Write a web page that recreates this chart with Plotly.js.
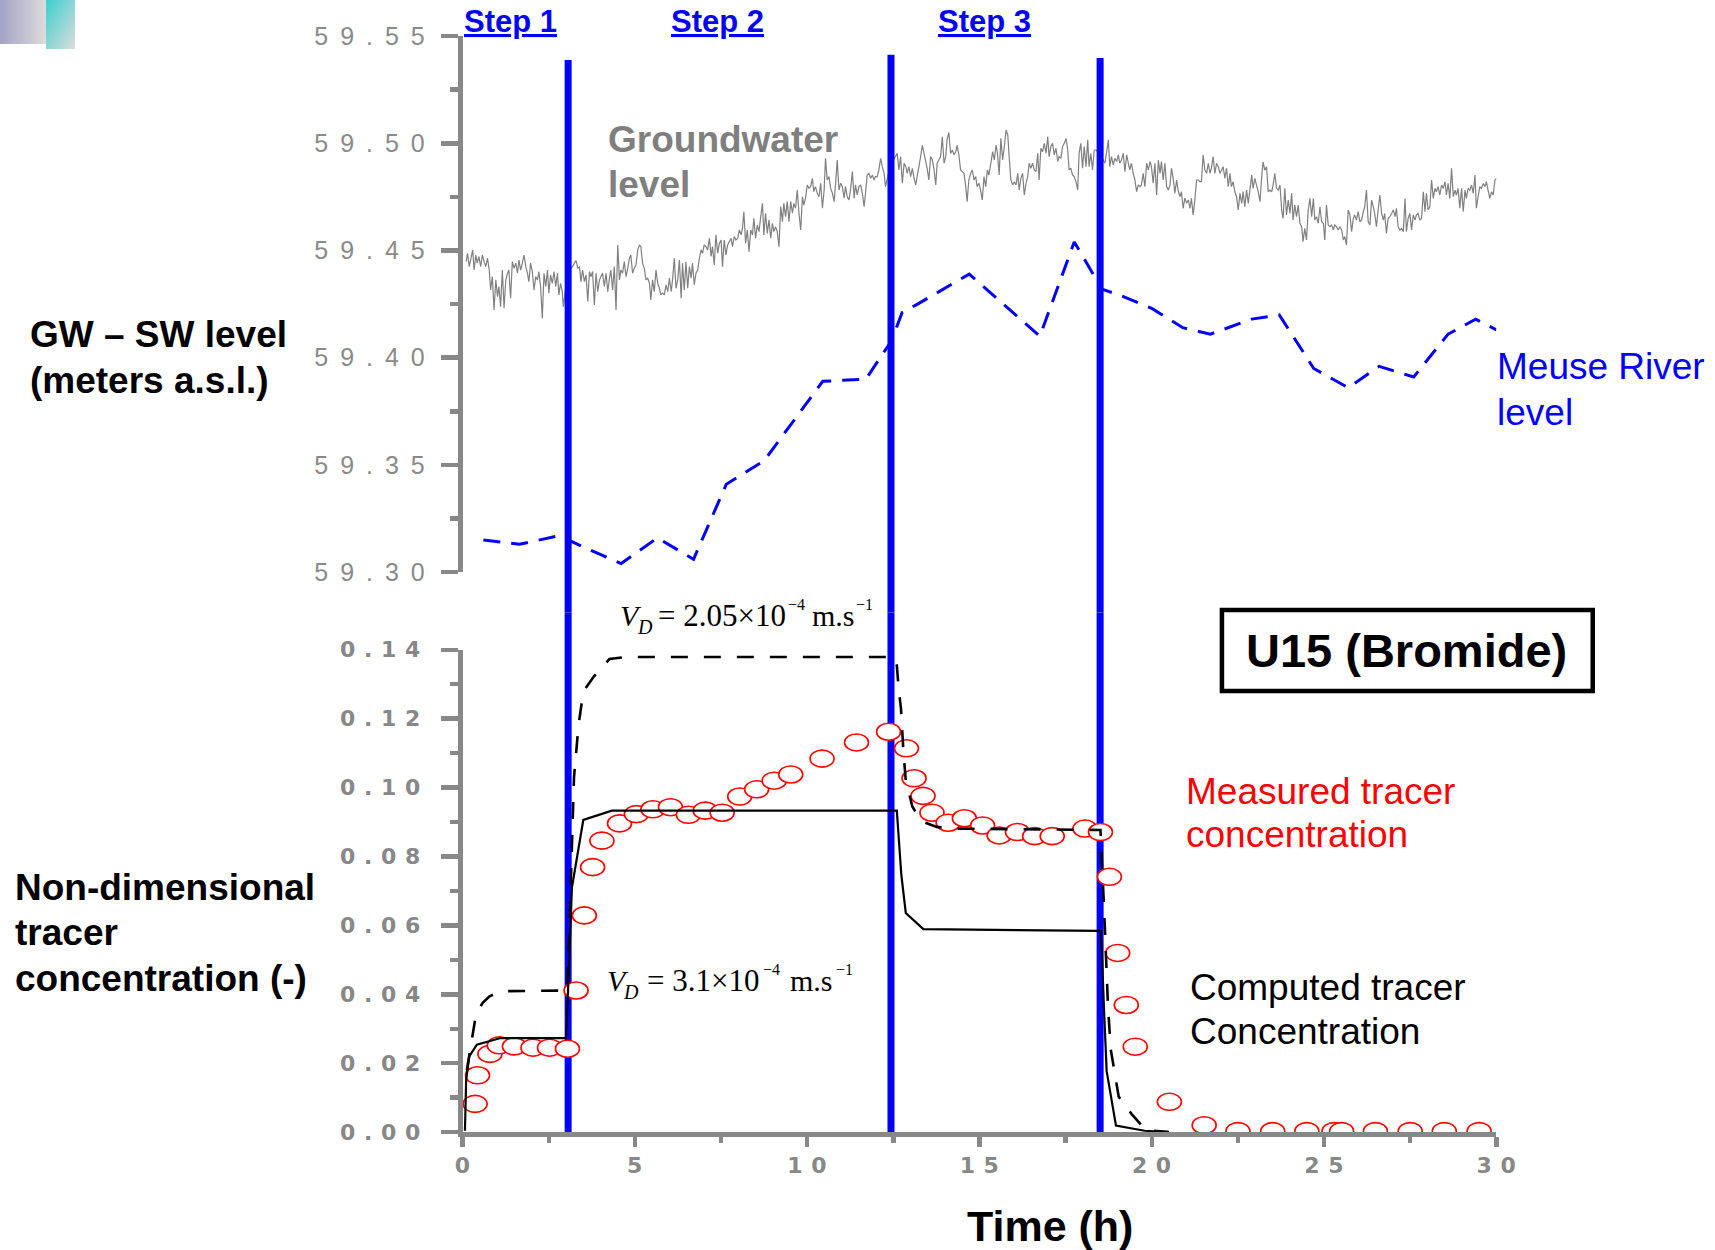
<!DOCTYPE html>
<html><head><meta charset="utf-8">
<script src="https://cdn.plot.ly/plotly-3.0.1.min.js"></script>
<style>
html,body{margin:0;padding:0;background:#fff}
#chart{width:1715px;height:1250px}
#chart .y2tick text{letter-spacing:2.5px}
#chart .ytick text{letter-spacing:0.5px}
#chart .xtick text{letter-spacing:0.5px}
</style>
</head><body><div id="chart"></div>
<script>
// ---------------- DATA ----------------
const stepTimes = [3.06, 12.43, 18.5];
const stepLabels = ["Step 1", "Step 2", "Step 3"];
const stepLabelTimes = [1.4, 7.4, 15.14];

// Groundwater level readings (two reading passes, merged and sorted by time below)
const gwTime = [0.10,0.19,0.29,0.38,0.47,0.57,0.67,0.77,0.86,0.91,1.01,1.10,1.15,1.20,1.30,1.39,1.44,1.54,1.63,1.73,1.78,1.88,1.97,2.07,2.17,2.26,2.31,2.36,2.46,2.50,2.60,2.70,2.79,2.89,2.92,3.05,
3.19,3.29,3.39,3.43,3.53,3.63,3.68,3.77,3.82,3.92,4.01,4.11,4.21,4.30,4.35,4.40,4.45,4.50,4.59,4.69,4.79,4.88,4.98,5.08,5.13,5.22,5.32,5.46,5.56,5.66,5.75,5.85,5.95,6.05,6.14,6.19,6.29,6.34,6.43,6.48,6.53,6.63,6.72,6.82,6.92,7.01,7.16,7.21,7.35,7.45,7.54,7.59,7.69,
7.79,7.88,7.98,8.08,8.16,8.21,8.31,8.36,8.45,8.50,8.60,8.70,8.74,8.84,8.94,9.03,9.13,9.18,9.23,9.32,9.42,9.47,9.52,9.61,9.71,9.81,9.86,9.95,10.00,10.10,10.19,10.29,10.39,10.44,10.53,10.63,10.73,10.78,10.87,10.97,11.07,11.16,11.26,11.31,11.36,11.45,11.55,11.65,11.74,11.84,11.94,12.03,12.13,12.23,12.27,12.42,
12.56,12.66,12.76,12.86,12.95,13.05,13.15,13.24,13.34,13.44,13.53,13.58,13.68,13.73,13.82,13.92,14.02,14.11,14.21,14.31,14.40,14.50,14.60,14.64,14.74,14.84,14.93,15.03,15.08,15.18,15.27,
15.33,15.43,15.48,15.57,15.62,15.72,15.77,15.86,15.91,16.01,16.11,16.15,16.25,16.30,16.40,16.44,16.54,16.64,16.69,16.73,16.78,16.88,16.98,17.02,17.12,17.17,17.27,17.36,17.46,17.51,17.56,17.60,17.70,17.80,17.85,17.89,17.94,17.99,18.04,18.09,18.14,18.23,18.28,18.33,18.38,18.50,
18.64,18.74,18.78,18.88,18.98,19.07,19.17,19.22,19.32,19.41,19.51,19.56,19.66,19.75,19.80,19.90,19.99,20.04,20.14,20.19,20.28,20.33,20.43,20.53,20.57,20.67,20.77,20.82,20.91,21.01,21.11,21.20,21.25,21.30,21.40,21.49,21.59,21.69,21.78,21.88,21.98,22.07,22.12,22.22,22.31,22.41,22.46,22.51,22.61,22.70,22.80,
22.90,22.99,23.09,23.19,23.23,23.33,23.43,23.52,23.57,23.67,23.77,23.86,23.91,24.01,24.06,24.10,24.20,24.30,24.39,24.49,24.54,24.59,24.69,24.73,24.83,24.88,24.98,25.02,25.07,25.17,25.27,25.36,25.46,25.56,25.65,25.70,25.80,25.89,25.99,26.09,26.18,26.23,26.33,26.38,26.47,26.52,26.62,26.72,26.81,26.91,27.01,27.10,27.20,27.30,27.35,27.39,27.49,27.59,27.68,27.78,27.88,27.97,28.07,28.12,28.22,28.31,28.41,28.51,28.60,28.65,28.70,28.80,28.89,28.94,29.04,29.13,29.23,29.33,29.38,29.42,29.52,29.62,29.71,29.81,29.91,30.01,
0.14,0.24,0.33,0.42,0.52,0.62,0.72,0.81,0.96,1.05,1.25,1.34,1.49,1.59,1.68,1.83,1.92,2.02,2.12,2.21,2.41,2.55,2.65,2.75,2.84,
3.24,3.34,3.48,3.58,3.72,3.87,3.97,4.06,4.16,4.26,4.55,4.64,4.74,4.84,4.93,5.03,5.17,5.27,5.37,5.42,5.51,5.61,5.71,5.80,5.90,6.00,6.09,6.24,6.38,6.58,6.67,6.77,6.87,6.96,7.06,7.11,7.25,7.30,7.40,7.50,7.64,7.74,
7.83,7.93,8.03,8.12,8.26,8.41,8.55,8.65,8.79,8.89,8.99,9.08,9.28,9.37,9.57,9.66,9.76,9.90,10.05,10.15,10.24,10.34,10.49,10.58,10.68,10.82,10.92,11.02,11.11,11.21,11.40,11.50,11.60,11.69,11.79,11.89,11.98,12.08,12.18,
12.61,12.71,12.81,12.90,13.00,13.10,13.19,13.29,13.39,13.48,13.63,13.77,13.87,13.97,14.06,14.16,14.26,14.35,14.45,14.55,14.69,14.79,14.89,14.98,15.13,15.23,
15.38,15.52,15.67,15.82,15.96,16.06,16.20,16.35,16.49,16.59,16.83,16.93,17.07,17.22,17.31,17.41,17.65,17.75,18.18,
18.69,18.83,18.93,19.03,19.12,19.27,19.36,19.46,19.61,19.70,19.85,19.95,20.09,20.24,20.38,20.48,20.62,20.72,20.86,20.96,21.06,21.15,21.35,21.44,21.54,21.64,21.73,21.83,21.93,22.03,22.17,22.27,22.36,22.56,22.65,22.75,
22.94,23.04,23.14,23.28,23.38,23.48,23.62,23.72,23.81,23.96,24.15,24.25,24.35,24.44,24.64,24.78,24.93,25.12,25.22,25.31,25.41,25.51,25.60,25.75,25.85,25.94,26.04,26.14,26.28,26.43,26.57,26.67,26.76,26.86,26.96,27.06,27.15,27.25,27.44,27.54,27.64,27.73,27.83,27.93,28.02,28.17,28.26,28.36,28.46,28.55,28.75,28.84,28.99,29.09,29.18,29.28,29.47,29.57,29.67,29.76,29.86,29.96];
const gwLevel = [59.4448,59.4425,59.4503,59.4479,59.4472,59.4479,59.4425,59.4409,59.4378,59.4223,59.4285,59.4238,59.4409,59.4231,59.4394,59.4277,59.4448,59.4441,59.4456,59.4441,59.4479,59.4394,59.4441,59.4316,59.4363,59.4332,59.4184,59.4394,59.4409,59.4301,59.4347,59.4332,59.4293,59.4308,59.4238,59.4400,
59.4425,59.4453,59.4425,59.4355,59.4355,59.4262,59.4402,59.4402,59.4246,59.4308,59.4378,59.4332,59.4308,59.4409,59.4316,59.4425,59.4223,59.4526,59.4409,59.4448,59.4417,59.4479,59.4417,59.4503,59.4526,59.4441,59.4363,59.4270,59.4308,59.4347,59.4293,59.4293,59.4308,59.4308,59.4464,59.4324,59.4456,59.4277,59.4316,59.4448,59.4324,59.4371,59.4340,59.4409,59.4503,59.4526,59.4557,59.4472,59.4573,59.4534,59.4425,59.4549,59.4526,
59.4557,59.4565,59.4557,59.4573,59.4681,59.4534,59.4495,59.4596,59.4650,59.4557,59.4588,59.4720,59.4573,59.4580,59.4557,59.4588,59.4588,59.4518,59.4705,59.4720,59.4728,59.4635,59.4728,59.4720,59.4782,59.4596,59.4751,59.4744,59.4806,59.4798,59.4775,59.4767,59.4814,59.4697,59.4930,59.4845,59.4767,59.4728,59.4922,59.4814,59.4744,59.4751,59.4790,59.4868,59.4744,59.4759,59.4806,59.4705,59.4852,59.4837,59.4829,59.4845,59.4930,59.4860,59.4798,59.4900,
59.4938,59.4876,59.4814,59.4891,59.4891,59.4883,59.4806,59.4891,59.4990,59.4915,59.4829,59.4938,59.4876,59.4806,59.4922,59.5030,59.4938,59.5050,59.4969,59.4961,59.4946,59.4868,59.4798,59.4728,59.4860,59.4829,59.4798,59.4782,59.4736,59.4798,59.4852,
59.4907,59.4922,59.4992,59.4852,59.5023,59.4985,59.5062,59.4938,59.4829,59.4821,59.4860,59.4782,59.4860,59.4759,59.4845,59.4907,59.4907,59.4868,59.4953,59.4829,59.4977,59.5000,59.5031,59.4938,59.5000,59.4946,59.4915,59.4930,59.5000,59.5023,59.4969,59.4876,59.4852,59.4821,59.4782,59.4953,59.5000,59.4884,59.4985,59.4891,59.5016,59.4953,59.4876,59.4969,59.4969,59.4950,
59.4907,59.5016,59.4891,59.4899,59.4915,59.4907,59.4953,59.4868,59.4907,59.4907,59.4829,59.4775,59.4798,59.4860,59.4798,59.4876,59.4891,59.4814,59.4759,59.4922,59.4915,59.4829,59.4798,59.4806,59.4884,59.4767,59.4775,59.4751,59.4697,59.4720,59.4697,59.4666,59.4736,59.4829,59.4821,59.4946,59.4860,59.4860,59.4938,59.4907,59.4860,59.4891,59.4837,59.4798,59.4798,59.4775,59.4751,59.4689,59.4720,59.4705,59.4720,
59.4852,59.4837,59.4774,59.4844,59.4914,59.4891,59.4782,59.4805,59.4860,59.4782,59.4689,59.4790,59.4666,59.4673,59.4767,59.4642,59.4658,59.4627,59.4541,59.4549,59.4689,59.4743,59.4743,59.4642,59.4627,59.4704,59.4627,59.4549,59.4712,59.4611,59.4596,59.4611,59.4611,59.4549,59.4526,59.4689,59.4588,59.4666,59.4681,59.4642,59.4704,59.4782,59.4619,59.4735,59.4673,59.4611,59.4759,59.4642,59.4580,59.4658,59.4689,59.4697,59.4596,59.4588,59.4743,59.4588,59.4673,59.4666,59.4666,59.4642,59.4774,59.4767,59.4704,59.4829,59.4790,59.4798,59.4805,59.4821,59.4813,59.4743,59.4883,59.4782,59.4790,59.4697,59.4681,59.4743,59.4782,59.4767,59.4852,59.4697,59.4798,59.4813,59.4821,59.4743,59.4759,59.4836,
59.4487,59.4464,59.4409,59.4441,59.4425,59.4448,59.4464,59.4316,59.4363,59.4332,59.4363,59.4409,59.4417,59.4394,59.4409,59.4425,59.4355,59.4402,59.4378,59.4402,59.4332,59.4386,59.4402,59.4394,59.4347,
59.4441,59.4417,59.4409,59.4386,59.4378,59.4394,59.4363,59.4394,59.4394,59.4371,59.4363,59.4394,59.4378,59.4464,59.4394,59.4433,59.4518,59.4417,59.4371,59.4347,59.4363,59.4409,59.4324,59.4301,59.4340,59.4371,59.4363,59.4363,59.4441,59.4425,59.4441,59.4394,59.4464,59.4487,59.4518,59.4503,59.4518,59.4433,59.4487,59.4549,59.4479,59.4542,
59.4518,59.4549,59.4596,59.4604,59.4596,59.4573,59.4619,59.4658,59.4674,59.4643,59.4627,59.4611,59.4635,59.4658,59.4674,59.4697,59.4674,59.4712,59.4790,59.4837,59.4798,59.4751,59.4782,59.4829,59.4790,59.4806,59.4782,59.4798,59.4798,59.4736,59.4806,59.4798,59.4767,59.4767,59.4860,59.4852,59.4845,59.4876,59.4891,
59.4953,59.4938,59.4907,59.4860,59.4845,59.4837,59.4845,59.4938,59.4953,59.4883,59.4922,59.4907,59.4938,59.4907,59.5020,59.4953,59.4946,59.4990,59.4876,59.4860,59.4829,59.4876,59.4845,59.4814,59.4845,59.4876,
59.4961,59.4954,59.4922,59.5039,59.4806,59.4806,59.4837,59.4814,59.4884,59.4876,59.4961,59.4954,59.4985,59.4977,59.4938,59.4985,59.4884,59.4845,59.4891,
59.4961,59.4938,59.4930,59.4946,59.4922,59.4946,59.4876,59.4860,59.4806,59.4806,59.4907,59.4915,59.4907,59.4860,59.4907,59.4782,59.4837,59.4829,59.4775,59.4744,59.4736,59.4744,59.4829,59.4821,59.4876,59.4907,59.4884,59.4860,59.4891,59.4876,59.4884,59.4860,59.4821,59.4767,59.4775,59.4782,
59.4790,59.4805,59.4728,59.4875,59.4774,59.4774,59.4790,59.4805,59.4650,59.4735,59.4712,59.4712,59.4611,59.4603,59.4658,59.4658,59.4634,59.4619,59.4619,59.4619,59.4596,59.4596,59.4565,59.4666,59.4650,59.4642,59.4634,59.4681,59.4634,59.4704,59.4689,59.4673,59.4673,59.4650,59.4673,59.4658,59.4611,59.4603,59.4650,59.4596,59.4642,59.4673,59.4650,59.4681,59.4689,59.4743,59.4774,59.4759,59.4790,59.4759,59.4751,59.4759,59.4790,59.4782,59.4790,59.4805,59.4751,59.4790,59.4798,59.4782,59.4774,59.4829];

const riverTime  = [0.6, 1.65, 2.8, 3.6, 4.6, 5.65, 6.7, 7.65, 8.75, 10.45, 11.7, 12.45, 12.75, 13.2, 14.7, 16.75, 17.75, 18.55, 19.1, 20.0, 20.9, 21.7, 22.9, 23.7, 24.7, 25.7, 26.6, 27.6, 28.6, 29.4, 30.0];
const riverLevel = [59.315, 59.313, 59.317, 59.311, 59.304, 59.316, 59.306, 59.341, 59.352, 59.389, 59.390, 59.408, 59.421, 59.425, 59.439, 59.410, 59.454, 59.432, 59.429, 59.423, 59.414, 59.411, 59.418, 59.420, 59.395, 59.386, 59.396, 59.391, 59.411, 59.418, 59.413];

const measTime = [0.36,0.43,0.79,1.06,1.5,2.04,2.52,3.04,3.29,3.53,3.77,4.04,4.55,5.04,5.52,6.03,6.55,7.04,7.53,8.04,8.53,9.04,9.52,10.43,11.43,12.36,12.88,13.1,13.36,13.62,14.09,14.56,15.09,15.57,16.1,16.6,17.11,18.06,18.51,18.77,19.01,19.26,19.52,20.51,21.52,22.5,23.51,24.5,25.29,25.51,26.49,27.5,28.49,29.5];
const measConc = [0.0082,0.0165,0.0227,0.0252,0.0249,0.0245,0.0245,0.0242,0.0411,0.0629,0.0769,0.0846,0.0896,0.0923,0.0937,0.0943,0.0921,0.0933,0.0927,0.0974,0.0995,0.102,0.1038,0.1084,0.1131,0.1162,0.1114,0.1027,0.0976,0.0927,0.0898,0.0911,0.089,0.0861,0.0871,0.0859,0.0859,0.0881,0.0871,0.0741,0.052,0.0369,0.0248,0.0088,0.002,0.0003,0.0003,0.0003,0.0003,0.0003,0.0003,0.0003,0.0003,0.0003];

// computed, V_D = 2.05e-4 (dashed)
const compDashTime = [0.12,0.39,0.58,0.78,1.1,3.04,3.1,3.17,3.23,3.36,3.45,3.55,3.81,4.26,4.72,12.52,12.6,12.66,12.72,12.79,12.86,13.05,13.31,13.76,14.22,18.51,18.55,18.61,18.67,18.73,18.81,19.04,19.41,19.82,20.5];
const compDashConc = [0.018,0.0344,0.0375,0.0394,0.0409,0.0411,0.06,0.085,0.103,0.118,0.1243,0.1286,0.1323,0.1373,0.1379,0.1379,0.1354,0.128,0.123,0.1106,0.102,0.0945,0.0902,0.0886,0.0881,0.0877,0.0797,0.066,0.0512,0.0363,0.0239,0.0103,0.0053,0.0006,0];
// computed, V_D = 3.1e-4 (solid)
const compSolidTime = [0.065,0.1,0.19,0.41,1.1,3.0,3.04,3.1,3.17,3.5,4.33,12.6,12.66,12.73,12.86,13.37,18.51,18.55,18.61,18.69,18.96,19.79,20.5];
const compSolidConc = [0.0004,0.0152,0.022,0.0254,0.0273,0.0273,0.0363,0.0512,0.071,0.0906,0.0933,0.0933,0.0834,0.0747,0.0636,0.0589,0.0584,0.0524,0.0363,0.0177,0.0019,0.0004,0];

const levelTickVals = [59.30, 59.35, 59.40, 59.45, 59.50, 59.55];
const levelTickText = ["5 9 . 3 0", "5 9 . 3 5", "5 9 . 4 0", "5 9 . 4 5", "5 9 . 5 0", "5 9 . 5 5"];
const concTickVals = [0, 0.02, 0.04, 0.06, 0.08, 0.10, 0.12, 0.14];
const concTickText = ["0 . 0 0", "0 . 0 2", "0 . 0 4", "0 . 0 6", "0 . 0 8", "0 . 1 0", "0 . 1 2", "0 . 1 4"];
const timeTickVals = [0, 5, 10, 15, 20, 25, 30];
const timeTickText = ["0", "5", "1 0", "1 5", "2 0", "2 5", "3 0"];

// ---------------- STYLE / LAYOUT ----------------
const GRAY = '#888888';
const BLUE = '#0000ff';
const stepLineTops = [0.952, 0.9562, 0.9536];
const SANS = 'Liberation Sans, Arial, sans-serif';
const SERIF = 'Liberation Serif, Times New Roman, serif';

// order groundwater readings by time
const gwOrder = gwTime.map((t, i) => i).sort((a, b) => gwTime[a] - gwTime[b]);
const gwX = gwOrder.map(i => gwTime[i]);
const gwY = gwOrder.map(i => gwLevel[i]);

const axisBase = {showline: true, linecolor: GRAY, linewidth: 4.5, ticks: 'outside', tickcolor: GRAY, tickwidth: 4.5,
  showgrid: false, zeroline: false, fixedrange: true, tickmode: 'array'};

const traces = [
  {x: gwX, y: gwY, xaxis: 'x', yaxis: 'y2', mode: 'lines', line: {color: '#808080', width: 1.2, simplify: false}, hoverinfo: 'skip'},
  {x: riverTime, y: riverLevel, xaxis: 'x', yaxis: 'y2', mode: 'lines', line: {color: BLUE, width: 3, dash: '17px,11px'}, hoverinfo: 'skip'},
  {x: compDashTime, y: compDashConc, xaxis: 'x', yaxis: 'y', mode: 'lines', line: {color: '#000', width: 2.6, dash: '17px,16px'}, hoverinfo: 'skip'},
  {x: compSolidTime, y: compSolidConc, xaxis: 'x', yaxis: 'y', mode: 'lines', line: {color: '#000', width: 2.2}, hoverinfo: 'skip'}
];

const shapes = [];
stepTimes.forEach((t, i) => {
  shapes.push({type: 'line', xref: 'x', yref: 'paper', x0: t, x1: t, y0: 0.0944, y1: 0.51, line: {color: BLUE, width: 7}, layer: 'below'});
  shapes.push({type: 'line', xref: 'x', yref: 'paper', x0: t, x1: t, y0: 0.51, y1: stepLineTops[i], line: {color: BLUE, width: 7}, layer: 'above'});
});
measTime.forEach((t, i) => {
  shapes.push({type: 'circle', xref: 'x', yref: 'y', xsizemode: 'pixel', ysizemode: 'pixel', xanchor: t, yanchor: measConc[i],
    x0: -12, x1: 12, y0: -8.5, y1: 8.5, line: {color: '#ff0000', width: 1.6}, fillcolor: '#ffffff', layer: 'below'});
});
shapes.push({type: 'rect', xref: 'paper', yref: 'paper', x0: 0.7125, x1: 0.9287, y0: 0.4472, y1: 0.512, line: {color: '#000', width: 4.5}, layer: 'above'});

function ann(text, x, y, font, extra) {
  return Object.assign({text: text, x: x, y: y, xref: 'paper', yref: 'paper', showarrow: false, xanchor: 'left', yanchor: 'middle', font: font}, extra || {});
}
const annotations = [];
stepLabels.forEach((s, i) => {
  annotations.push({text: '<u>' + s + '</u>', x: stepLabelTimes[i], y: 0.9824, xref: 'x', yref: 'paper', showarrow: false,
    xanchor: 'center', yanchor: 'middle', font: {family: SANS, size: 31, color: BLUE, weight: 'bold'}});
});
const fGW = {family: SANS, size: 37, color: '#7f7f7f', weight: 'bold'};
annotations.push(ann('Groundwater', 0.3533, 0.888, fGW));
annotations.push(ann('level', 0.3533, 0.8528, fGW));
const fRiver = {family: SANS, size: 37, color: BLUE};
annotations.push(ann('Meuse River', 0.8718, 0.7064, fRiver));
annotations.push(ann('level', 0.8718, 0.6704, fRiver));
const fMeas = {family: SANS, size: 37, color: '#ff0000'};
annotations.push(ann('Measured tracer', 0.6903, 0.3672, fMeas));
annotations.push(ann('concentration', 0.6903, 0.332, fMeas));
const fComp = {family: SANS, size: 37, color: '#000'};
annotations.push(ann('Computed tracer', 0.6927, 0.2104, fComp));
annotations.push(ann('Concentration', 0.6927, 0.1752, fComp));
annotations.push(ann('U15 (Bromide)', 0.8204, 0.4796, {family: SANS, size: 47, color: '#000', weight: 'bold'}, {xanchor: 'center'}));
const fLab = {family: SANS, size: 37, color: '#000', weight: 'bold'};
annotations.push(ann('GW \u2013 SW level', 0.0163, 0.7328, fLab));
annotations.push(ann('(meters a.s.l.)', 0.0163, 0.696, fLab));
annotations.push(ann('Non-dimensional', 0.0075, 0.2896, fLab));
annotations.push(ann('tracer', 0.0075, 0.2536, fLab));
annotations.push(ann('concentration (-)', 0.0075, 0.2176, fLab));
annotations.push(ann('Time (h)', 0.612, 0.0192, {family: SANS, size: 43, color: '#000', weight: 'bold'}, {xanchor: 'center'}));

// equations V_D = ... built from pieces (italic V, lowered D, raised exponents)
const fEqI = {family: SERIF, size: 30, color: '#000', style: 'italic'};
const fEqSub = {family: SERIF, size: 20, color: '#000', style: 'italic'};
const fEq = {family: SERIF, size: 31, color: '#000'};
const fEqM = {family: SERIF, size: 30, color: '#000'};
const fEqSup = {family: SERIF, size: 16, color: '#000'};
annotations.push(ann('V', 0.3604, 0.508, fEqI));
annotations.push(ann('D', 0.3703, 0.4984, fEqSub));
annotations.push(ann('= 2.05\u00d710', 0.3825, 0.508, fEq));
annotations.push(ann('\u22124', 0.4586, 0.5165, fEqSup));
annotations.push(ann('m.s', 0.4725, 0.508, fEqM));
annotations.push(ann('\u22121', 0.4977, 0.5165, fEqSup));
annotations.push(ann('V', 0.3528, 0.216, fEqI));
annotations.push(ann('D', 0.3621, 0.2064, fEqSub));
annotations.push(ann('= 3.1\u00d710', 0.3760, 0.216, fEq));
annotations.push(ann('\u22124', 0.4440, 0.2245, fEqSup));
annotations.push(ann('m.s', 0.4595, 0.216, fEqM));
annotations.push(ann('\u22121', 0.4864, 0.2245, fEqSup));

const deco = "<svg xmlns='http://www.w3.org/2000/svg' width='75' height='50'><defs>" +
  "<linearGradient id='a' x1='0' y1='0' x2='1' y2='0'><stop offset='0' stop-color='#a4a2c6'/><stop offset='1' stop-color='#dcdcdc'/></linearGradient>" +
  "<linearGradient id='b' x1='0' y1='0' x2='1' y2='1'><stop offset='0' stop-color='#3ccfcf'/><stop offset='1' stop-color='#dcdcdc'/></linearGradient></defs>" +
  "<rect x='0' y='0' width='46' height='44' fill='url(#a)'/><rect x='46' y='0' width='29' height='49' fill='url(#b)'/></svg>";

const tickFontBold = {family: 'DejaVu Sans', size: 22, color: GRAY, weight: 'bold'};

const layout = {
  width: 1715, height: 1250, margin: {l: 0, r: 0, t: 0, b: 0}, autosize: false,
  paper_bgcolor: '#ffffff', plot_bgcolor: 'rgba(0,0,0,0)', showlegend: false,
  xaxis: Object.assign({}, axisBase, {domain: [0.2698, 0.8725], range: [0, 30], anchor: 'y',
    tickvals: timeTickVals, ticktext: timeTickText, ticklen: 10, ticklabelstandoff: 0,
    tickfont: tickFontBold,
    minor: {tickmode: 'linear', tick0: 0, dtick: 2.5, ticks: 'outside', ticklen: 6, tickwidth: 4.5, tickcolor: GRAY, showgrid: false}}),
  yaxis: Object.assign({}, axisBase, {domain: [0.0943, 0.4802], range: [0, 0.14], anchor: 'x',
    tickvals: concTickVals, ticktext: concTickText, ticklen: 17, ticklabelstandoff: 16,
    tickfont: tickFontBold,
    minor: {tickmode: 'linear', tick0: 0, dtick: 0.01, ticks: 'outside', ticklen: 8, tickwidth: 4.5, tickcolor: GRAY, showgrid: false}}),
  yaxis2: Object.assign({}, axisBase, {domain: [0.5423, 0.9711], range: [59.30, 59.55], anchor: 'x',
    tickvals: levelTickVals, ticktext: levelTickText, ticklen: 17, ticklabelstandoff: 9,
    tickfont: {family: SANS, size: 25, color: '#8a8a8a'},
    minor: {tickmode: 'linear', tick0: 59.30, dtick: 0.025, ticks: 'outside', ticklen: 8, tickwidth: 4.5, tickcolor: GRAY, showgrid: false}}),
  shapes: shapes,
  annotations: annotations,
  images: [{source: 'data:image/svg+xml;charset=utf-8,' + encodeURIComponent(deco), xref: 'paper', yref: 'paper',
    x: 0, y: 1, sizex: 75 / 1715, sizey: 50 / 1250, xanchor: 'left', yanchor: 'top', sizing: 'stretch', layer: 'below'}]
};

Plotly.newPlot('chart', traces, layout, {displayModeBar: false, staticPlot: true});
</script>
</body></html>
